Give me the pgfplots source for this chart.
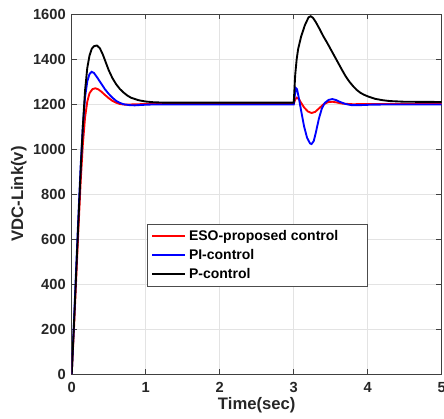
\documentclass[border=0pt]{standalone}
\usepackage{fontspec}
\setmainfont{Liberation Sans}
\usepackage{pgfplots}
\pgfplotsset{compat=1.18}
\begin{document}
\begin{tikzpicture}
\begin{axis}[
  scale only axis,
  width=277.5pt, height=270pt,
  xmin=0, xmax=5, ymin=0, ymax=1600,
  xtick={0,1,2,3,4,5}, ytick={0,200,...,1600},
  grid=major,
  major grid style={gray!22, line width=0.5pt},
  axis line style={black!75, line width=0.6pt},
  tick style={black!75, line width=0.6pt},
  tick align=inside, tick pos=both,
  major tick length=4pt,
  /pgf/number format/assume math mode=true,
  /pgf/number format/1000 sep={},
  ticklabel style={font=\bfseries\fontsize{11}{13}\selectfont, text=black!85},
  xticklabel style={yshift=-3pt},
  yticklabel style={xshift=-1pt},
  xlabel={Time(sec)},
  ylabel={VDC-Link(v)},
  label style={font=\bfseries\fontsize{12.5}{14}\selectfont, text=black!85},
  xlabel style={yshift=4pt},
  ylabel style={yshift=-2pt},
  legend cell align=left,
  legend style={at={(rel axis cs:0.2027,0.417)}, anchor=north west,
    draw=black!70, fill=white,
    font=\bfseries\fontsize{10.5}{12}\selectfont,
    row sep=1.2pt, inner xsep=3pt, inner ysep=2.5pt},
  legend image code/.code={\draw[#1, line width=1.5pt] (0pt,0pt) -- (25pt,0pt);},
]
\addplot[red, line width=1.4pt] coordinates {
(0,0) (0.03,200) (0.06,420) (0.09,640) (0.12,850) (0.15,1020) (0.18,1140)
(0.21,1210) (0.24,1248) (0.28,1266) (0.32,1270) (0.36,1265) (0.40,1255)
(0.45,1240) (0.50,1226) (0.55,1214) (0.60,1206) (0.65,1200) (0.72,1197)
(0.80,1198) (1.00,1200) (3.00,1200)
(3.02,1220) (3.04,1228) (3.07,1222) (3.10,1205) (3.14,1185) (3.19,1167)
(3.24,1160) (3.29,1165) (3.34,1180) (3.40,1198) (3.46,1208) (3.52,1210)
(3.58,1207) (3.65,1202) (3.80,1199) (4.00,1200) (5.00,1200)
};
\addlegendentry{ESO-proposed control\rule{17pt}{0pt}}
\addplot[blue, line width=1.4pt] coordinates {
(0,0) (0.03,230) (0.06,470) (0.09,700) (0.12,920) (0.15,1100) (0.18,1230)
(0.21,1300) (0.24,1333) (0.27,1343) (0.30,1338) (0.35,1315) (0.40,1290)
(0.45,1265) (0.50,1245) (0.55,1228) (0.60,1214) (0.65,1205) (0.70,1199)
(0.78,1195) (0.85,1194) (0.95,1196) (1.10,1198) (3.00,1198)
(3.015,1240) (3.03,1270) (3.045,1265) (3.07,1225) (3.10,1170) (3.14,1100)
(3.18,1050) (3.22,1025) (3.24,1022) (3.27,1035) (3.30,1075) (3.34,1135)
(3.38,1180) (3.42,1205) (3.47,1218) (3.52,1222) (3.57,1218) (3.62,1210)
(3.70,1200) (3.78,1195) (3.90,1195) (4.05,1197) (4.30,1198) (5.00,1198)
};
\addlegendentry{PI-control}
\addplot[black, line width=1.4pt] coordinates {
(0,0) (0.03,220) (0.06,450) (0.09,680) (0.12,900) (0.15,1100) (0.18,1260)
(0.21,1360) (0.24,1415) (0.27,1445) (0.30,1457) (0.34,1460) (0.38,1448)
(0.42,1420) (0.46,1385) (0.50,1350) (0.55,1315) (0.60,1288) (0.65,1267)
(0.70,1251) (0.75,1238) (0.80,1228) (0.90,1217) (1.00,1211) (1.10,1208)
(1.25,1206) (3.00,1206)
(3.02,1330) (3.04,1400) (3.06,1445) (3.10,1500) (3.15,1550) (3.20,1585)
(3.23,1590) (3.26,1583) (3.30,1563) (3.35,1533) (3.40,1501) (3.45,1473)
(3.50,1443) (3.55,1413) (3.60,1383) (3.65,1353) (3.70,1324) (3.75,1300)
(3.80,1280) (3.85,1263) (3.90,1250) (3.95,1241) (4.00,1234) (4.10,1223)
(4.20,1217) (4.30,1213) (4.50,1210) (5.00,1209)
};
\addlegendentry{P-control}
\end{axis}
\pgfresetboundingbox
\path ([shift={(-53.8pt,-33.5pt)}]current axis.south west) rectangle ([shift={(1.7pt,10.5pt)}]current axis.north east);
\end{tikzpicture}
\end{document}
